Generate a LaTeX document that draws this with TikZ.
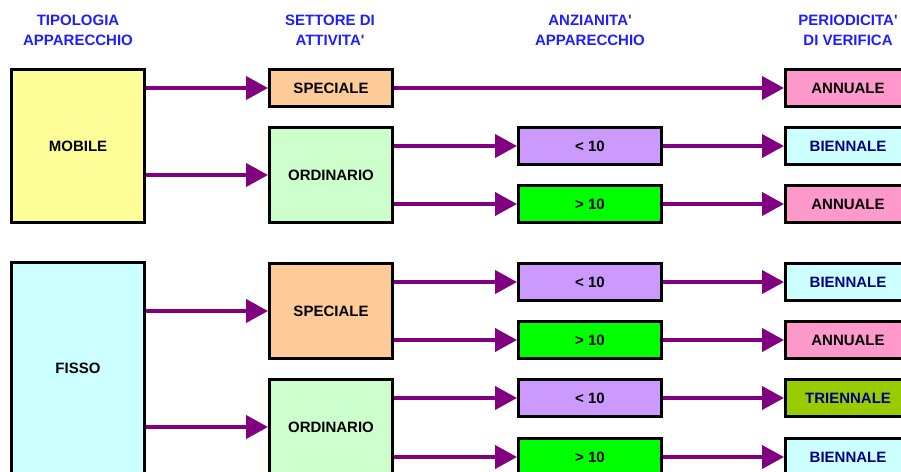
\documentclass[tikz,border=0pt]{standalone}
\usepackage{fontspec}
\setmainfont{Liberation Sans}
\usetikzlibrary{arrows.meta}
\definecolor{hdr}{RGB}{30,30,255}
\definecolor{arr}{RGB}{128,0,128}
\definecolor{cYel}{HTML}{FFFF99}
\definecolor{cPeach}{HTML}{FFCC99}
\definecolor{cMint}{HTML}{CCFFCC}
\definecolor{cPink}{HTML}{FF99CC}
\definecolor{cCyan}{HTML}{CCFFFF}
\definecolor{cLil}{HTML}{CC99FF}
\definecolor{cGrn}{HTML}{00FF00}
\definecolor{cOlive}{HTML}{99CC00}
\definecolor{navy}{HTML}{000080}
\newcommand{\ap}{\textquotesingle}
\begin{document}
\begin{tikzpicture}[x=1pt,y=-1pt,
  every node/.style={font=\fontsize{15}{20}\selectfont\bfseries},
  box/.style={draw=black, line width=3pt, inner sep=0pt, anchor=center},
  big/.style={box, minimum width=133pt, minimum height=153pt},
  mid/.style={box, minimum width=123pt, minimum height=95pt},
  sml/.style={box, minimum width=123pt, minimum height=37pt},
  age/.style={box, minimum width=143pt, minimum height=37pt},
  res/.style={box, minimum width=125pt, minimum height=37pt},
  hd/.style={text=hdr, align=center},
  conn/.style={draw=arr, line width=4pt, -{Triangle[length=22pt,width=23pt]}}]
\useasboundingbox (0,0) rectangle (901,471);
% headers
\node[hd] (h1) at (78,30) {TIPOLOGIA\\APPARECCHIO};
\node[hd] (h2) at (330,30) {SETTORE DI\\ATTIVITA\ap};
\node[hd] (h3) at (590,30) {ANZIANITA\ap\\APPARECCHIO};
\node[hd] (h4) at (848,30) {PERIODICITA\ap\\DI VERIFICA};
% mobile group
\node[big, fill=cYel] (mob) at (78,146) {MOBILE};
\node[sml, fill=cPeach] (spM) at (331,88) {SPECIALE};
\node[mid, fill=cMint] (orM) at (331,175) {ORDINARIO};
\node[age, fill=cLil] (ltM) at (590,146) {< 10};
\node[age, fill=cGrn] (gtM) at (590,204) {> 10};
\node[res, fill=cPink] (a1) at (848,88) {ANNUALE};
\node[res, fill=cCyan, text=navy] (b1) at (848,146) {BIENNALE};
\node[res, fill=cPink] (a2) at (848,204) {ANNUALE};
% fisso group
\node[big, minimum height=211pt, fill=cCyan] (fis) at (78,368) {FISSO};
\node[mid, fill=cPeach] (spF) at (331,311) {SPECIALE};
\node[mid, fill=cMint] (orF) at (331,427) {ORDINARIO};
\node[age, fill=cLil] (lt1) at (590,282) {< 10};
\node[age, fill=cGrn] (gt1) at (590,340) {> 10};
\node[age, fill=cLil] (lt2) at (590,398) {< 10};
\node[age, fill=cGrn] (gt2) at (590,457) {> 10};
\node[res, fill=cCyan, text=navy] (b2) at (848,282) {BIENNALE};
\node[res, fill=cPink] (a3) at (848,340) {ANNUALE};
\node[res, fill=cOlive, text=navy] (t1) at (848,398) {TRIENNALE};
\node[res, fill=cCyan, text=navy] (b3) at (848,457) {BIENNALE};
% connectors
\draw[conn] (mob.east |- spM.west) -- (spM.west);
\draw[conn] (mob.east |- orM.west) -- (orM.west);
\draw[conn] (spM.east) -- (a1.west);
\draw[conn] (orM.east |- ltM.west) -- (ltM.west);
\draw[conn] (orM.east |- gtM.west) -- (gtM.west);
\draw[conn] (ltM.east) -- (b1.west);
\draw[conn] (gtM.east) -- (a2.west);
\draw[conn] (fis.east |- spF.west) -- (spF.west);
\draw[conn] (fis.east |- orF.west) -- (orF.west);
\draw[conn] (spF.east |- lt1.west) -- (lt1.west);
\draw[conn] (spF.east |- gt1.west) -- (gt1.west);
\draw[conn] (orF.east |- lt2.west) -- (lt2.west);
\draw[conn] (orF.east |- gt2.west) -- (gt2.west);
\draw[conn] (lt1.east) -- (b2.west);
\draw[conn] (gt1.east) -- (a3.west);
\draw[conn] (lt2.east) -- (t1.west);
\draw[conn] (gt2.east) -- (b3.west);
\end{tikzpicture}
\end{document}
